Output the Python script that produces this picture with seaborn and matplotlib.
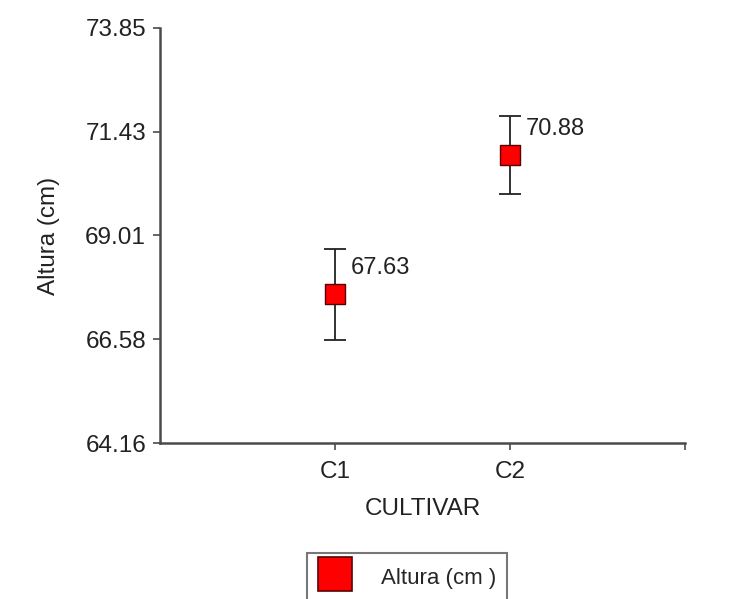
import matplotlib
matplotlib.use("Agg")
import matplotlib.pyplot as plt
import seaborn as sns
import pandas as pd
from matplotlib.lines import Line2D

# Data: mean plant height per cultivar with its error half-width
categories = ["C1", "C2"]
means = [67.63, 70.88]
errors = [1.07, 0.91]
y_ticks = [64.16, 66.58, 69.01, 71.43, 73.85]
y_tick_labels = ["64.16", "66.58", "69.01", "71.43", "73.85"]
series_label = "Altura (cm )"

sns.set_theme(style="white")
plt.rcParams["font.family"] = ["Liberation Sans", "DejaVu Sans"]

df = pd.DataFrame({"CULTIVAR": categories, "Altura": means, "err": errors})

fig = plt.figure(figsize=(7.32, 5.99), dpi=100)
ax = fig.add_axes([160 / 732, 1 - 443 / 599, (685 - 160) / 732, (443 - 28) / 599])

axis_col = "#4a4a4a"

# error bars first so the markers sit on top
xpos = list(range(len(categories)))
ax.errorbar(xpos, df["Altura"], yerr=df["err"], fmt="none", ecolor="#222222",
            elinewidth=1.3, capsize=8, capthick=1.3, zorder=2)

sns.scatterplot(data=df, x="CULTIVAR", y="Altura", marker="s", s=210,
                color="#ff0000", edgecolor="#5a0000", linewidth=1.0,
                ax=ax, zorder=3, legend=False)

for x, m in zip(xpos, df["Altura"]):
    ax.annotate(f"{m:.2f}", (x, m), xytext=(11, 19), textcoords="offset points",
                ha="left", va="center", fontsize=17, color="#222222")

ax.set_xlim(-1, 2)
ax.set_xticks([0, 1, 2])
ax.set_xticklabels(categories + [""])
ax.set_ylim(y_ticks[0], y_ticks[-1])
ax.set_yticks(y_ticks)
ax.set_yticklabels(y_tick_labels)

ax.set_xlabel("CULTIVAR", fontsize=17.5, color="#222222", labelpad=11)
ax.set_ylabel("Altura (cm)", fontsize=17.5, color="#222222", labelpad=18)

for side in ["top", "right"]:
    ax.spines[side].set_visible(False)
for side in ["left", "bottom"]:
    ax.spines[side].set_color(axis_col)
    ax.spines[side].set_linewidth(1.8)

ax.tick_params(axis="both", which="major", direction="out", length=5, width=1.2,
               color=axis_col, labelsize=17.5, labelcolor="#222222", pad=5,
               left=True, bottom=True)
ax.tick_params(axis="x", pad=8)
ax.grid(False)

handle = Line2D([], [], marker="s", linestyle="none", markersize=25,
                markerfacecolor="#ff0000", markeredgecolor="#5a0000",
                markeredgewidth=1.2)
leg = fig.legend([handle], [series_label], loc="upper left",
                 bbox_to_anchor=(307 / 732, 1 - 553 / 599), frameon=True,
                 fontsize=16, borderpad=0.45, handletextpad=1.3,
                 borderaxespad=0, fancybox=False, handlelength=1.6,
                 handleheight=1.55)
leg.get_frame().set_edgecolor("#555555")
leg.get_frame().set_linewidth(1.5)

fig.savefig("out.png", dpi=100)
